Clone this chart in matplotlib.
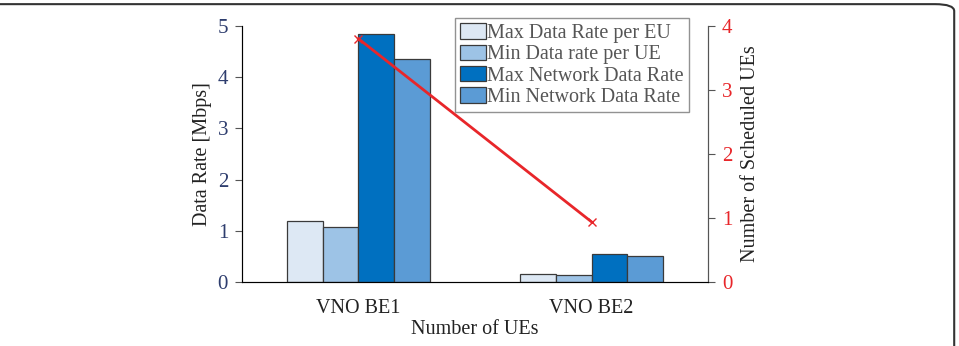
import matplotlib
matplotlib.use('Agg')
import matplotlib.pyplot as plt
from matplotlib.patches import FancyBboxPatch
import numpy as np

plt.rcParams['font.family'] = ['Liberation Serif', 'DejaVu Serif']

categories = ['VNO BE1', 'VNO BE2']
series_names = ['Max Data Rate per EU', 'Min Data rate per UE',
                'Max Network Data Rate', 'Min Network Data Rate']
max_rate_ue = [1.2, 0.15]
min_rate_ue = [1.08, 0.13]
max_net_rate = [4.85, 0.55]
min_net_rate = [4.35, 0.50]
scheduled_ues = [3.8, 0.94]

colors = ['#dde8f4', '#9dc3e6', '#0070c0', '#5b9bd5']
blue_txt = '#2e3d6e'
red = '#e8262a'

fig = plt.figure(figsize=(9.59, 3.46), dpi=100)
ax = fig.add_axes([0.2523, 0.185, 0.486, 0.740])

x = np.arange(1, len(categories) + 1)
w = 0.154
series = [max_rate_ue, min_rate_ue, max_net_rate, min_net_rate]
for i, vals in enumerate(series):
    ax.bar(x + (i - 1.5) * w, vals, w, color=colors[i], edgecolor='#3a3a3a',
           linewidth=0.9, label=series_names[i], zorder=2)

ax.set_xlim(0.5, 2.5)
ax.set_ylim(0, 5)
ax.set_yticks([0, 1, 2, 3, 4, 5])
ax.set_xticks(x)
ax.set_xticklabels(categories, fontsize=14.5, color='#222222')
ax.tick_params(axis='x', length=0, pad=12)
ax.tick_params(axis='y', direction='out', length=5, labelsize=15, colors='#555555',
               labelcolor=blue_txt, pad=5)
ax.set_ylabel('Data Rate [Mbps]', fontsize=14.5, color='#222222', labelpad=4)
ax.set_xlabel('Number of UEs', fontsize=14.5, color='#222222', labelpad=2)
ax.spines['top'].set_visible(False)
for s in ['left', 'bottom', 'right']:
    ax.spines[s].set_color('#555555')

leg = ax.legend(loc='upper left', bbox_to_anchor=(0.457, 1.03), fontsize=14.5,
                frameon=True, fancybox=False, edgecolor='#777777',
                handlelength=1.3, handleheight=0.8, handletextpad=0.05,
                borderpad=0.25, labelspacing=0.08, borderaxespad=0)
for t in leg.get_texts():
    t.set_color('#555555')

ax2 = ax.twinx()
ax2.plot(x, scheduled_ues, color=red, linewidth=2, marker='x', markersize=6,
         markeredgewidth=1, zorder=3)
ax2.set_ylim(0, 4)
ax2.set_yticks([0, 1, 2, 3, 4])
ax2.tick_params(axis='y', direction='out', length=5, labelsize=15, colors='#555555',
                labelcolor=red, pad=5)
ax2.set_ylabel('Number of Scheduled UEs', fontsize=14.5, color='#222222', labelpad=6)
ax2.spines['top'].set_visible(False)
ax2.spines['right'].set_color('#555555')

frame = FancyBboxPatch((-0.05, -0.2), 1.045, 1.188, boxstyle='round,pad=0,rounding_size=0.02',
                       transform=fig.transFigure, facecolor='none',
                       edgecolor='#333333', linewidth=1.5)
fig.patches.append(frame)

fig.savefig('out.png', dpi=100)
